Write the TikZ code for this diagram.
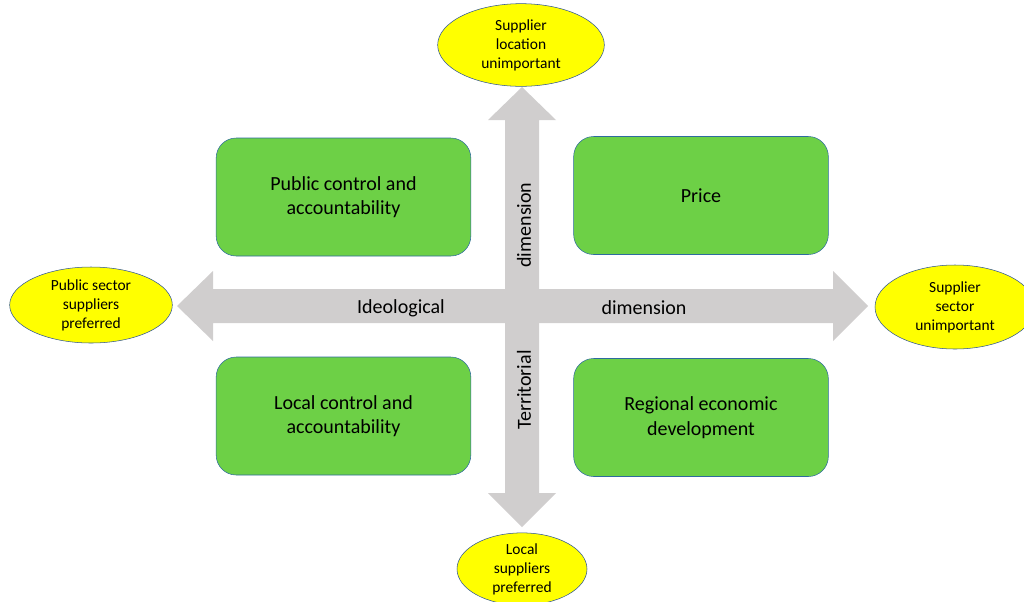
\documentclass[tikz,border=0pt]{standalone}
\usepackage{fontspec}
\setmainfont{Carlito}
\usetikzlibrary{shapes.geometric}

\definecolor{boxgreen}{HTML}{6DD046}
\definecolor{boxedge}{HTML}{2E6B9E}
\definecolor{axisgray}{HTML}{D0CECE}
\definecolor{poleyellow}{HTML}{FFFF00}
\definecolor{poleedge}{HTML}{2F5597}

\begin{document}
\begin{tikzpicture}[x=0.75pt, y=-0.75pt,
    quadbox/.style={draw=boxedge, fill=boxgreen, rounded corners=15pt, minimum width=191pt, minimum height=88.5pt, align=center, font=\fontsize{15}{18.5}\selectfont},
    pole/.style={ellipse, draw=poleedge, fill=poleyellow, inner sep=0pt, align=center, font=\fontsize{11.6}{14.2}\selectfont},
    axislabel/.style={font=\fontsize{15}{18.5}\selectfont}]
    \useasboundingbox (0,0) rectangle (1024,601);

    % Axes
    \fill[axisgray] (177,306) -- (213,271) -- (213,289) -- (833,289) -- (833,271) -- (868,306)
        -- (833,341) -- (833,323) -- (213,323) -- (213,341) -- cycle;
    \fill[axisgray] (522,87) -- (556,120) -- (539,120) -- (539,493) -- (556,493) -- (522,527)
        -- (488,493) -- (505,493) -- (505,120) -- (488,120) -- cycle;

    % Axis labels
    \node[axislabel] (ideo) at (401,308) {Ideological};
    \node[axislabel] (ideodim) at (644,308) {dimension};
    \node[axislabel, rotate=90] (terrdim) at (524,225) {dimension};
    \node[axislabel, rotate=90] (terr) at (524,390) {Territorial};

    % Quadrants
    \node[quadbox] (public) at (343.5,197) {Public control and\\accountability};
    \node[quadbox] (price) at (701,195.5) {Price};
    \node[quadbox] (local) at (343.5,416) {Local control and\\accountability};
    \node[quadbox] (regional) at (701,417.5) {Regional economic\\development};

    % Poles
    \node[pole, minimum width=125pt, minimum height=62pt] (locunimp) at (521,45) {Supplier\\location\\unimportant};
    \node[pole, minimum width=122pt, minimum height=57pt] (pubpref) at (91,305) {Public sector\\suppliers\\preferred};
    \node[pole, minimum width=120pt, minimum height=63pt] (secunimp) at (955,307) {Supplier\\sector\\unimportant};
    \node[pole, minimum width=97.5pt, minimum height=54pt] (localpref) at (522,569) {Local\\suppliers\\preferred};
\end{tikzpicture}
\end{document}
